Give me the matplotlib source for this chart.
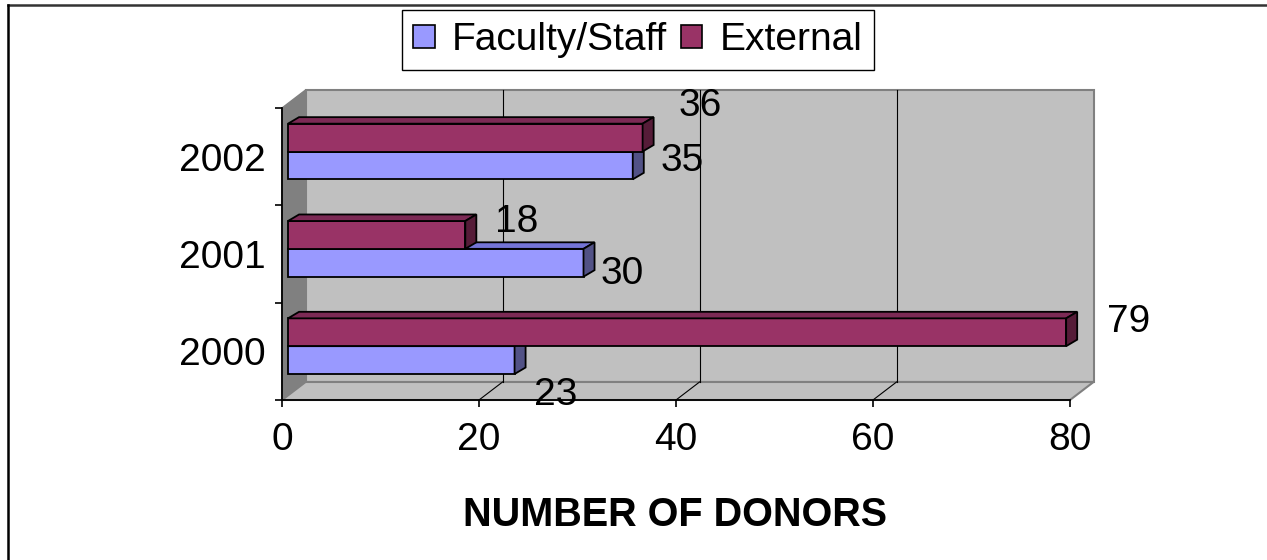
import matplotlib
matplotlib.use("Agg")
import matplotlib.pyplot as plt
from matplotlib.patches import Polygon, Patch
from matplotlib.lines import Line2D
import numpy as np

plt.rcParams['font.family'] = ['Liberation Sans', 'DejaVu Sans']

# donors per year
years = ["2000", "2001", "2002"]
faculty = [23, 30, 35]
external = [79, 18, 36]

# label nudges in pixels (right, down) so the numbers sit like the old Excel chart
fac_label_off = [(41, 35), (39, 11), (49, -4)]
ext_label_off = [(62, -10), (51, -13), (58, -32)]

FAC = "#9999FF"
FAC_TOP = "#7474D6"
FAC_SIDE = "#525286"
EXT = "#993366"
EXT_TOP = "#7C2A55"
EXT_SIDE = "#561C38"

W, H = 1267, 560
fig = plt.figure(figsize=(W / 100, H / 100), dpi=100)
ax = fig.add_axes([282 / W, 160 / H, 788 / W, 292 / H])
ax.set_xlim(0, 80)
ax.set_ylim(0, 3)
ax.set_facecolor("none")

# 3d box: depth of walls and of bars in data units
dx, dy = 2.39, 0.185
bdx, bdy = 1.12, 0.067
x0 = 0.61          # bars sit a bit into the box
bh = 0.286         # bar thickness
lift = 0.053

# walls
ax.add_patch(Polygon([(dx, dy), (80 + dx, dy), (80 + dx, 3 + dy), (dx, 3 + dy)],
                     closed=True, fc="#C0C0C0", ec="#808080", lw=1.5, zorder=0, clip_on=False))
ax.add_patch(Polygon([(0, 0), (dx, dy), (dx, 3 + dy), (0, 3)],
                     closed=True, fc="#808080", ec="#808080", lw=1, zorder=0, clip_on=False))
ax.add_patch(Polygon([(0, 0), (80, 0), (80 + dx, dy), (dx, dy)],
                     closed=True, fc="#C0C0C0", ec="#808080", lw=1.5, zorder=0, clip_on=False))
for g in [20, 40, 60]:
    ax.plot([g + dx, g + dx], [dy, 3 + dy], color="black", lw=0.8, zorder=1, clip_on=False)
    ax.plot([g, g + dx], [0, dy], color="black", lw=0.8, zorder=1, clip_on=False)

centers = np.arange(len(years)) + 0.5
ext_bottom = centers + lift
fac_bottom = centers + lift - bh


def box3d(vals, bottoms, front, top, side, z):
    ax.barh(bottoms, vals, left=x0, height=bh, align="edge", color=front,
            edgecolor="black", lw=1.3, zorder=z, clip_on=False)
    for v, b in zip(vals, bottoms):
        x1 = x0 + v
        t = b + bh
        ax.add_patch(Polygon([(x0, t), (x0 + bdx, t + bdy), (x1 + bdx, t + bdy), (x1, t)],
                             closed=True, fc=top, ec="black", lw=1.3, zorder=z, clip_on=False))
        ax.add_patch(Polygon([(x1, b), (x1, t), (x1 + bdx, t + bdy), (x1 + bdx, b + bdy)],
                             closed=True, fc=side, ec="black", lw=1.3, zorder=z, clip_on=False))


box3d(faculty, fac_bottom, FAC, FAC_TOP, FAC_SIDE, 3)
box3d(external, ext_bottom, EXT, EXT_TOP, EXT_SIDE, 4)

# value labels
for v, b, (ox, oy) in zip(faculty, fac_bottom, fac_label_off):
    ax.annotate(str(v), (x0 + v, b + bh / 2), xytext=(ox, -oy), textcoords="offset pixels",
                ha="center", va="center", fontsize=28, zorder=6, annotation_clip=False)
for v, b, (ox, oy) in zip(external, ext_bottom, ext_label_off):
    ax.annotate(str(v), (x0 + v, b + bh / 2), xytext=(ox, -oy), textcoords="offset pixels",
                ha="center", va="center", fontsize=28, zorder=6, annotation_clip=False)

# axes
for s in ["top", "right"]:
    ax.spines[s].set_visible(False)
ax.spines["left"].set_linewidth(1.3)
ax.spines["bottom"].set_linewidth(1.3)
ax.spines["left"].set_zorder(2)
ax.spines["bottom"].set_zorder(2)
ax.set_xticks([0, 20, 40, 60, 80])
ax.tick_params(axis="x", length=5, width=1.2, pad=11, labelsize=28)
ax.set_yticks([0, 1, 2, 3])
ax.set_yticklabels([])
ax.tick_params(axis="y", which="major", length=5, width=1.2)
ax.set_yticks(centers, minor=True)
ax.set_yticklabels(years, minor=True)
ax.tick_params(axis="y", which="minor", length=0, pad=12, labelsize=28)

fig.text(675 / W, 1 - 515 / H, "NUMBER OF DONORS", ha="center", va="center",
         fontsize=28.5, fontweight="bold")

handles = [Patch(fc=FAC, ec="black", lw=1.2), Patch(fc=EXT, ec="black", lw=1.2)]
fig.legend(handles, ["Faculty/Staff", "External"], loc="center",
           bbox_to_anchor=(638 / W, 1 - 40 / H), ncol=2, fontsize=28,
           frameon=True, fancybox=False, edgecolor="black", framealpha=1,
           handlelength=0.55, handleheight=0.55, handletextpad=0.45,
           columnspacing=0.35, borderpad=0.3, borderaxespad=0)

# outer frame, only top and left edges
fig.add_artist(Line2D([8 / W, 1], [1 - 4.5 / H, 1 - 4.5 / H], color="#333333", lw=1.8))
fig.add_artist(Line2D([8 / W, 8 / W], [0, 1 - 4.5 / H], color="black", lw=1.8))

fig.savefig("out.png", dpi=100)
